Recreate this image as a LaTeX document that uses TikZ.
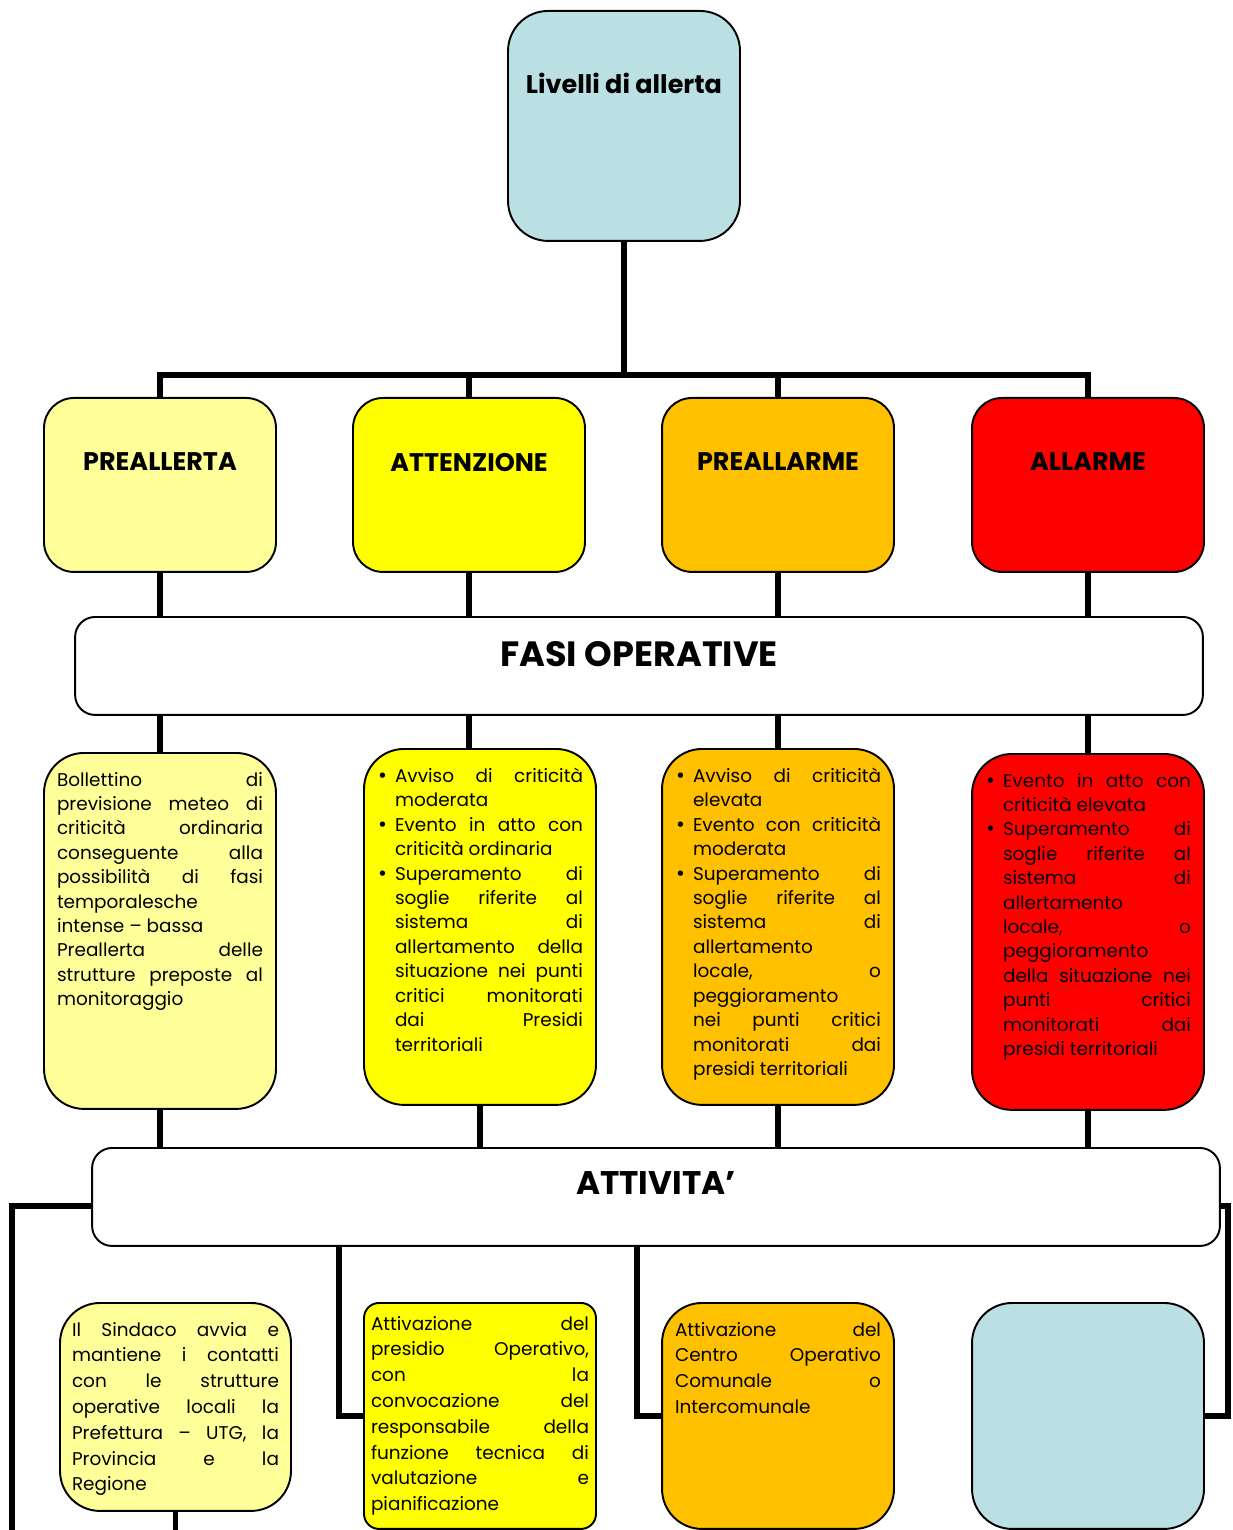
\documentclass[tikz,border=0pt]{standalone}
\usepackage{fontspec}
\setmainfont{Poppins}
\newfontfamily\simboli{DejaVu Sans}
\usepackage{xcolor}
\usetikzlibrary{positioning,calc}

\definecolor{celeste}{HTML}{BBE0E3}
\definecolor{gialloch}{HTML}{FFFF99}
\definecolor{giallo}{HTML}{FFFF00}
\definecolor{arancio}{HTML}{FFC000}
\definecolor{rosso}{HTML}{FF0000}

\newcommand{\corpo}{\fontsize{10.5pt}{13.9pt}\selectfont}
\newcommand{\corpob}{\fontsize{10.5pt}{14.7pt}\selectfont}
\newcommand{\voce}{\par\noindent\hangindent=0.36cm\hangafter=1\makebox[0.36cm][l]{\simboli •}}

\begin{document}
\begin{tikzpicture}[x=0.02cm,y=-0.02cm,
  card/.style={draw,line width=1.1pt,rounded corners=0.8cm,anchor=north,inner xsep=0.26cm,inner ysep=0.38cm},
  conn/.style={line width=3.2pt}]
\useasboundingbox (0,0) rectangle (1232,1530);

% livelli di allerta
\node[card,fill=celeste,inner xsep=0.1cm,inner ysep=1.24cm] (top) at (624,10)
  {\parbox[t][2.12cm][t]{4.44cm}{\centering\fontsize{14.5pt}{17pt}\selectfont\bfseries Livelli di allerta}};

\foreach \n/\x/\c/\t in {pre/160/gialloch/PREALLERTA,att/469/giallo/ATTENZIONE,prl/778/arancio/PREALLARME,all/1088/rosso/ALLARME}
  \node[card,fill=\c,rounded corners=0.6cm,inner xsep=0.1cm,inner ysep=1.1cm] (\n) at (\x,397)
    {\parbox[t][1.28cm][t]{4.44cm}{\centering\fontsize{14.5pt}{17pt}\selectfont\bfseries \t}};

% fasi operative
\node[card,fill=white,rounded corners=0.4cm,inner xsep=0.1cm,inner ysep=0.5cm] (fasi) at (639,616)
  {\parbox[t][0.96cm][t]{22.36cm}{\centering\fontsize{20pt}{23pt}\selectfont\bfseries FASI OPERATIVE}};

\node[card,fill=gialloch] (d1) at (160,752)
  {\parbox[t][6.36cm][t]{4.12cm}{\corpo
  Bollettino di\linebreak previsione meteo di\linebreak criticità ordinaria\linebreak
  conseguente alla\linebreak possibilità di fasi\linebreak temporalesche\\
  intense – bassa\\ Preallerta delle\linebreak strutture preposte al\linebreak monitoraggio}};
\node[card,fill=giallo] (d2) at (480,748)
  {\parbox[t][6.36cm][t]{4.12cm}{\corpo
  \voce Avviso di criticità\linebreak moderata
  \voce Evento in atto con\linebreak criticità ordinaria
  \voce Superamento di\linebreak soglie riferite al\linebreak sistema di\linebreak
  allertamento della\linebreak situazione nei punti\linebreak critici monitorati\linebreak
  dai Presidi\linebreak territoriali}};
\node[card,fill=arancio] (d3) at (778,748)
  {\parbox[t][6.36cm][t]{4.12cm}{\corpo
  \voce Avviso di criticità\linebreak elevata
  \voce Evento con criticità\linebreak moderata
  \voce Superamento di\linebreak soglie riferite al\linebreak sistema di\linebreak
  allertamento\\ locale, o\linebreak peggioramento\\ nei punti critici\linebreak
  monitorati dai\linebreak presidi territoriali}};
\node[card,fill=rosso] (d4) at (1088,753)
  {\parbox[t][6.36cm][t]{4.12cm}{\corpo
  \voce Evento in atto con\linebreak criticità elevata
  \voce Superamento di\linebreak soglie riferite al\linebreak sistema di\linebreak
  allertamento\\ locale, o\linebreak peggioramento\\ della situazione nei\linebreak
  punti critici\linebreak monitorati dai\linebreak presidi territoriali}};

% attivita'
\node[card,fill=white,rounded corners=0.4cm,inner xsep=0.1cm,inner ysep=0.48cm] (act) at (656,1147)
  {\parbox[t][1.0cm][t]{22.36cm}{\centering\fontsize{18.6pt}{21pt}\selectfont\bfseries ATTIVITA’}};

\node[card,fill=gialloch,inner xsep=0.24cm] (b1) at (175.5,1302)
  {\parbox[t][3.4cm][t]{4.14cm}{\corpob
  Il Sindaco avvia e\linebreak mantiene i contatti\linebreak con le strutture\linebreak
  operative locali la\linebreak Prefettura – UTG, la\linebreak Provincia e la\linebreak Regione}};
\node[card,fill=giallo,rounded corners=0.3cm,inner xsep=0.14cm,inner ysep=0.26cm] (b2) at (480,1302)
  {\parbox[t][4.0cm][t]{4.36cm}{\corpob
  Attivazione del\linebreak presidio Operativo,\linebreak con la\linebreak convocazione del\linebreak
  responsabile della\linebreak funzione tecnica di\linebreak valutazione e\linebreak pianificazione}};
\node[card,fill=arancio] (b3) at (778,1302)
  {\parbox[t][3.76cm][t]{4.12cm}{\corpob
  Attivazione del\linebreak Centro Operativo\linebreak Comunale o\linebreak Intercomunale}};
\node[card,fill=celeste,inner sep=0pt,minimum width=4.64cm,minimum height=4.52cm] (b4) at (1088,1302) {};

% collegamenti
\coordinate (bus) at (624,375);
\coordinate (giu) at (12,1530);
\draw[conn] (top.south) -- (bus);
\draw[conn] (pre.north) |- (bus) -| (all.north);
\foreach \n in {att,prl}
  \draw[conn] (\n.north) -- (\n.north |- bus);
\foreach \n/\d in {pre/d1,att/d2,prl/d3,all/d4}{
  \draw[conn] (\n.south) -- (\n.south |- fasi.north);
  \draw[conn] (\n |- fasi.south) -- (\n |- \d.north);
  \draw[conn] (\d.south) -- (\d.south |- act.north);
}
\draw[conn] (b2.west) -| ([xshift=-0.48cm]b2.west |- act.south);
\draw[conn] (b3.west) -| ([xshift=-0.48cm]b3.west |- act.south);
\draw[conn] (b4.east) -| ([xshift=0.14cm,yshift=-0.18cm]act.east) -- ([yshift=-0.18cm]act.east);
\draw[conn] ([yshift=-0.18cm]act.west) -| (giu);
\draw[conn] (b1.south) -- (b1.south |- giu);
\end{tikzpicture}
\end{document}
